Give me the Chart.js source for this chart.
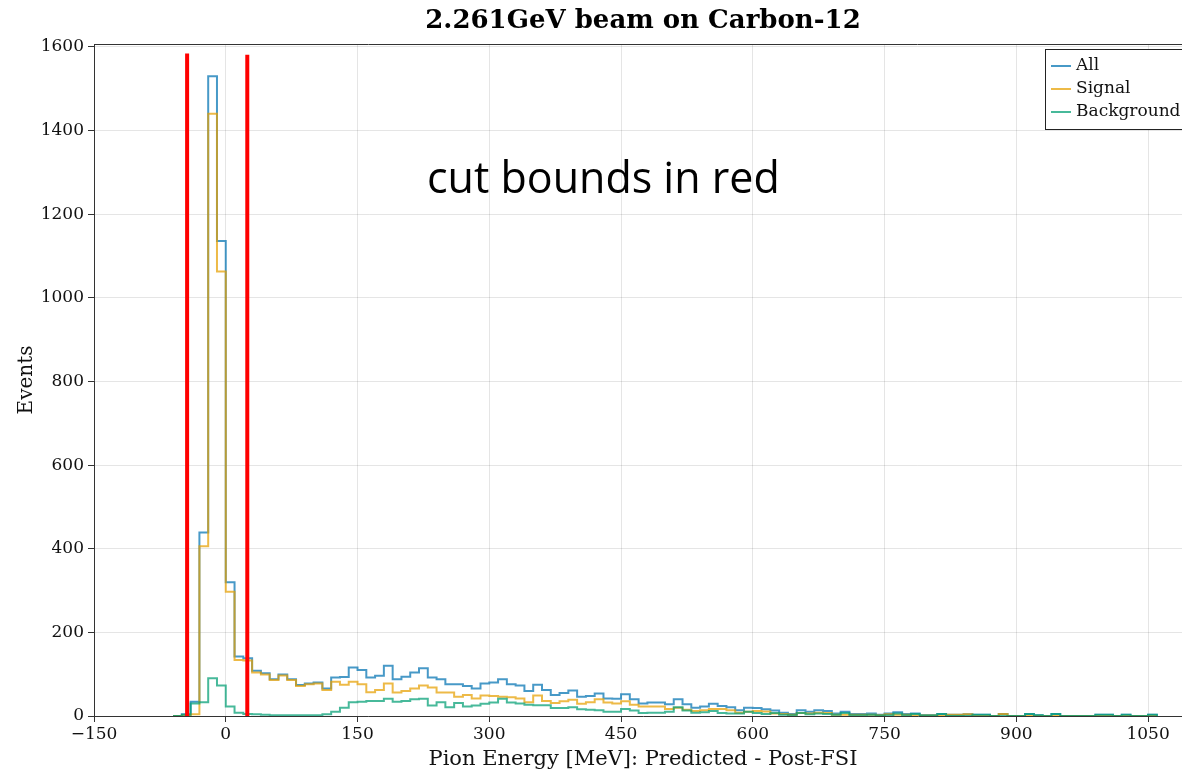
<!DOCTYPE html>
<html><head><meta charset="utf-8">
<script src="https://cdn.jsdelivr.net/npm/chart.js@4.4.1/dist/chart.umd.min.js"></script>
<style>
html,body{margin:0;padding:0;background:#fff;overflow:hidden;width:1182px;height:772px}
#wrap{position:relative;width:1192px;height:772px}
canvas{display:block}
</style></head><body>
<div id="wrap"><canvas id="c" width="1192" height="772"></canvas></div>
<script>
// Bin edges (MeV), 10 MeV wide
const binEdges = [
  -60,-50,-40,-30,-20,-10,0,10,20,30,
  40,50,60,70,80,90,100,110,120,130,
  140,150,160,170,180,190,200,210,220,230,
  240,250,260,270,280,290,300,310,320,330,
  340,350,360,370,380,390,400,410,420,430,
  440,450,460,470,480,490,500,510,520,530,
  540,550,560,570,580,590,600,610,620,630,
  640,650,660,670,680,690,700,710,720,730,
  740,750,760,770,780,790,800,810,820,830,
  840,850,860,870,880,890,900,910,920,930,
  940,950,960,970,980,990,1000,1010,1020,1030,
  1040,1050,1060
];
const allEvents = [
  0,4,34,439,1530,1136,320,142,138,108,
  102,88,99,88,74,78,80,66,92,93,
  116,110,92,96,120,88,94,104,114,92,
  88,76,76,72,66,78,80,88,76,73,
  60,75,62,50,55,61,46,48,54,42,
  41,52,40,30,32,32,28,40,28,20,
  23,29,24,21,14,20,19,16,13,8,
  5,14,10,14,12,6,10,5,5,6,
  3,6,9,5,6,2,2,5,3,3,
  4,3,3,0,5,0,0,5,2,0,
  5,0,0,0,0,3,3,0,3,0,
  0,3
];
const signalEvents = [
  0,1,4,406,1440,1063,297,134,133,104,
  99,86,97,86,72,76,78,62,82,75,
  82,76,57,62,78,56,60,66,73,68,
  56,56,46,50,42,49,48,46,45,42,
  33,49,36,31,35,39,29,33,40,32,
  30,35,27,23,23,23,17,20,15,12,
  14,17,17,14,8,10,12,11,6,5,
  3,7,6,8,7,3,3,3,3,3,
  2,4,3,3,1,1,1,0,3,3,
  4,0,0,0,5,0,0,0,0,0,
  0,0,0,0,0,0,0,0,0,0,
  0,0
];
const backgroundEvents = [
  0,3,30,33,90,73,23,8,5,4,
  3,2,2,2,2,2,2,4,10,20,
  33,34,36,36,41,34,36,40,41,25,
  33,21,31,23,25,29,32,41,32,30,
  27,26,26,19,19,21,16,15,14,10,
  10,17,13,7,8,8,10,21,13,8,
  9,12,7,6,6,10,7,5,7,3,
  2,7,4,6,5,3,7,2,2,3,
  1,2,6,2,5,1,1,5,0,0,
  0,3,3,0,0,0,0,5,2,0,
  5,0,0,0,0,3,3,0,3,0,
  0,3
];
const xTickValues = [-150, 0, 150, 300, 450, 600, 750, 900, 1050];
const yTickValues = [0, 200, 400, 600, 800, 1000, 1200, 1400, 1600];
const cutBounds = [-44, 24.5];
const cutTop = [1584, 1581];
const seriesLabels = ['All', 'Signal', 'Background'];
const seriesColors = ['rgba(0,114,178,0.72)', 'rgba(230,159,0,0.72)', 'rgba(0,158,115,0.72)'];
const titleText = '2.261GeV beam on Carbon-12';
const xTitle = 'Pion Energy [MeV]: Predicted - Post-FSI';
const yTitle = 'Events';
const noteText = 'cut bounds in red';

function steps(vals) {
  const pts = vals.map((v, i) => ({x: binEdges[i], y: v}));
  pts.push({x: binEdges[vals.length], y: 0});
  return pts;
}
const serif = '"DejaVu Serif", serif';
const fmt = v => String(v).replace('-', '\u2212');

const histSets = [allEvents, signalEvents, backgroundEvents].map((vals, i) => ({
  label: seriesLabels[i], data: steps(vals), stepped: true,
  borderColor: seriesColors[i], borderWidth: 2, pointRadius: 0, fill: false,
  order: 3 - i
}));
const cutSets = cutBounds.map((b, i) => ({
  label: 'cut' + i, data: [{x: b, y: 0}, {x: b, y: cutTop[i]}],
  borderColor: '#ff0000', borderWidth: 4, pointRadius: 0, fill: false, order: 0
}));

const framePlugin = {
  id: 'frame',
  afterDraw(chart) {
    const {ctx, chartArea: a} = chart;
    ctx.save();
    // top and right spines
    ctx.strokeStyle = '#333'; ctx.lineWidth = 1;
    ctx.beginPath();
    ctx.moveTo(a.left, a.top + 0.5); ctx.lineTo(a.right, a.top + 0.5);
    ctx.moveTo(a.right - 0.5, a.top); ctx.lineTo(a.right - 0.5, a.bottom);
    ctx.stroke();
    // title
    ctx.fillStyle = '#000';
    ctx.font = 'bold 26px ' + serif;
    ctx.textAlign = 'center'; ctx.textBaseline = 'middle';
    ctx.fillText(titleText, (a.left + a.right) / 2, 21);
    // annotation
    ctx.font = '43px "Open Sans", sans-serif';
    ctx.textAlign = 'left'; ctx.textBaseline = 'alphabetic';
    ctx.fillText(noteText, a.left + 333, a.top + 149);
    // legend
    const bx = a.right - 147, by = a.top + 5, bw = 141, bh = 80;
    ctx.fillStyle = '#fff';
    ctx.fillRect(bx, by, bw, bh);
    ctx.strokeStyle = '#222'; ctx.lineWidth = 1;
    ctx.strokeRect(bx + 0.5, by + 0.5, bw, bh);
    ctx.font = '17px ' + serif;
    ctx.textBaseline = 'middle';
    seriesLabels.forEach((lab, i) => {
      const y = by + 17 + i * 23;
      ctx.strokeStyle = seriesColors[i]; ctx.lineWidth = 2;
      ctx.beginPath(); ctx.moveTo(bx + 6, y); ctx.lineTo(bx + 26, y); ctx.stroke();
      ctx.fillStyle = '#111';
      ctx.fillText(lab, bx + 31, y);
    });
    ctx.restore();
  }
};

new Chart(document.getElementById('c'), {
  type: 'line',
  data: {datasets: [...histSets, ...cutSets]},
  options: {
    responsive: false, animation: false, devicePixelRatio: 1,
    layout: {padding: {top: 44, right: 0, left: 0, bottom: 0}},
    plugins: {legend: {display: false}, tooltip: {enabled: false}, title: {display: false}},
    scales: {
      x: {
        type: 'linear', min: -150, max: 1100,
        afterBuildTicks(s) { s.ticks = xTickValues.map(v => ({value: v})); },
        ticks: {callback: fmt, color: '#111', padding: 2,
                font: {family: serif, size: 17}, maxRotation: 0, autoSkip: false},
        grid: {color: 'rgba(0,0,0,0.1)', tickColor: '#333', tickLength: 6, drawTicks: true},
        border: {display: true, color: '#333', width: 1},
        title: {display: true, text: xTitle, color: '#111', font: {family: serif, size: 21},
                padding: {top: 0, bottom: 0}},
        afterFit(s) { s.height = 56; }
      },
      y: {
        type: 'linear', min: 0, max: 1607,
        afterBuildTicks(s) { s.ticks = yTickValues.map(v => ({value: v})); },
        ticks: {callback: fmt, color: '#111', padding: 4,
                font: {family: serif, size: 17}},
        grid: {color: 'rgba(0,0,0,0.1)', tickColor: '#333', tickLength: 6, drawTicks: true},
        border: {display: true, color: '#333', width: 1},
        title: {display: true, text: yTitle, color: '#111', font: {family: serif, size: 20},
                padding: {top: 15, bottom: 0}},
        afterFit(s) { s.width = 94; }
      }
    }
  },
  plugins: [framePlugin]
});
</script>
</body></html>
